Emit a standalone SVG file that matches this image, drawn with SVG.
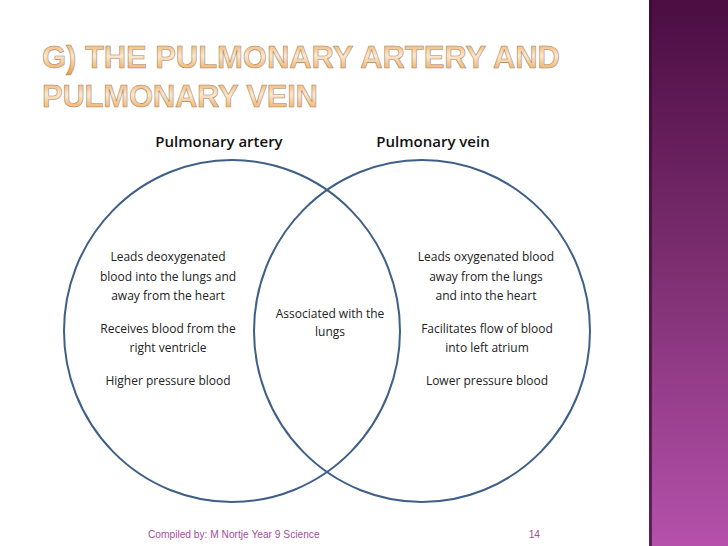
<svg xmlns="http://www.w3.org/2000/svg" width="728" height="546" viewBox="0 0 728 546">
  <defs>
    <linearGradient id="bar" x1="0" y1="0" x2="0" y2="1">
      <stop offset="0" stop-color="#4b0d42"/>
      <stop offset="0.5" stop-color="#7e2f72"/>
      <stop offset="1" stop-color="#b551ab"/>
    </linearGradient>
    <linearGradient id="title" x1="0" y1="0" x2="0" y2="1">
      <stop offset="0" stop-color="#f2a24a"/>
      <stop offset="0.45" stop-color="#fde9cf"/>
      <stop offset="1" stop-color="#f09a3a"/>
    </linearGradient>
    <style>
      .title { font-family: "Liberation Sans", Arial, sans-serif; font-size: 31px; font-weight: bold; fill: url(#title); stroke: #a08c78; stroke-width: 0.6; }
      .set { fill: none; stroke: #3e5f86; stroke-width: 2; }
      .head { font-family: "Open Sans", "Liberation Sans", sans-serif; font-size: 15px; font-weight: 600; fill: #111; text-anchor: middle; }
      .body { font-family: "Open Sans", "Liberation Sans", sans-serif; font-size: 12px; fill: #222; text-anchor: middle; }
      .foot { font-family: "Liberation Sans", Arial, sans-serif; font-size: 10.2px; fill: #a0509a; }
    </style>
  </defs>
  <rect width="728" height="546" fill="#ffffff"/>
  <g id="sidebar">
    <rect x="649" y="0" width="79" height="546" fill="url(#bar)"/>
    <rect x="649" y="0" width="3" height="546" fill="#3a0c33" opacity="0.7"/>
  </g>
  <g id="heading">
    <text class="title" x="42" y="68" textLength="518" lengthAdjust="spacing">G) THE PULMONARY ARTERY AND</text>
    <text class="title" x="42" y="107" textLength="276" lengthAdjust="spacing">PULMONARY VEIN</text>
  </g>
  <g id="connectors"></g>
  <g id="artery">
    <ellipse class="set" cx="232" cy="331" rx="168" ry="171"/>
    <text class="head" x="219" y="147">Pulmonary artery</text>
    <text class="body" x="168" y="261">Leads deoxygenated</text>
    <text class="body" x="168" y="281">blood into the lungs and</text>
    <text class="body" x="168" y="300">away from the heart</text>
    <text class="body" x="168" y="333">Receives blood from the</text>
    <text class="body" x="168" y="352">right ventricle</text>
    <text class="body" x="168" y="385">Higher pressure blood</text>
  </g>
  <g id="vein">
    <ellipse class="set" cx="422" cy="331" rx="168" ry="171"/>
    <text class="head" x="433" y="147">Pulmonary vein</text>
    <text class="body" x="486" y="261">Leads oxygenated blood</text>
    <text class="body" x="486" y="281">away from the lungs</text>
    <text class="body" x="486" y="300">and into the heart</text>
    <text class="body" x="487" y="333">Facilitates flow of blood</text>
    <text class="body" x="487" y="352">into left atrium</text>
    <text class="body" x="487" y="385">Lower pressure blood</text>
  </g>
  <g id="overlap">
    <text class="body" x="330" y="318">Associated with the</text>
    <text class="body" x="330" y="336">lungs</text>
  </g>
  <g id="footer">
    <text class="foot" x="148" y="538">Compiled by: M Nortje Year 9 Science</text>
    <text class="foot" x="540" y="538" text-anchor="end">14</text>
  </g>
</svg>
